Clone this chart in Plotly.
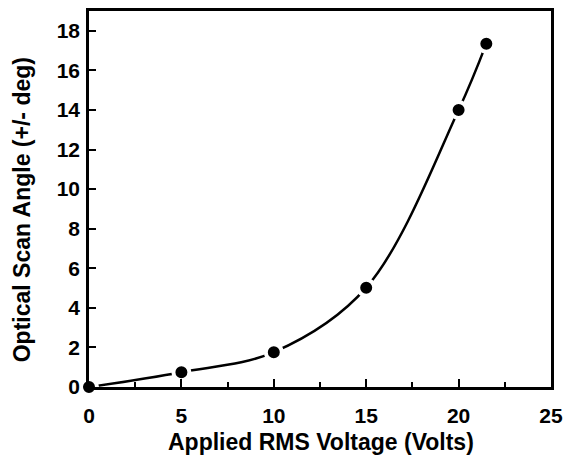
import plotly.graph_objects as go

voltage = [0, 5, 10, 15, 20, 21.5]
scan_angle = [0.0, 0.75, 1.76, 5.02, 14.0, 17.35]
x_ticks = [0, 5, 10, 15, 20, 25]
y_ticks = [0, 2, 4, 6, 8, 10, 12, 14, 16, 18]
x_title = "Applied RMS Voltage (Volts)"
y_title = "Optical Scan Angle (+/- deg)"

FONT = "Liberation Sans, Arial, sans-serif"

fig = go.Figure()
fig.add_trace(go.Scatter(
    x=voltage, y=scan_angle, mode="lines",
    line=dict(color="black", width=2.5, shape="spline", smoothing=1.0),
    showlegend=False, hoverinfo="skip"))
fig.add_trace(go.Scatter(
    x=voltage, y=scan_angle, mode="markers",
    marker=dict(color="black", size=16, line=dict(color="white", width=4)),
    showlegend=False, cliponaxis=False))

fig.update_layout(
    width=566, height=458,
    margin=dict(l=89, r=15, t=11, b=71, autoexpand=False),
    paper_bgcolor="white", plot_bgcolor="white",
    font=dict(family=FONT, color="black"),
    xaxis=dict(
        range=[0, 25], tickvals=x_ticks, ticks="inside", ticklen=8, tickwidth=2,
        tickcolor="black", showline=True, linecolor="black", linewidth=2.5,
        mirror=True, showgrid=False, zeroline=False, automargin=False,
        tickfont=dict(family=FONT, size=21, color="black", weight="bold"),
        ticklabelstandoff=8,
        minor=dict(tickvals=[2.5, 7.5, 12.5, 17.5, 22.5], ticks="inside",
                   ticklen=5, tickwidth=1.5, tickcolor="black"),
    ),
    yaxis=dict(
        range=[0, 19], tickvals=y_ticks, ticks="inside", ticklen=7, tickwidth=2,
        tickcolor="black", showline=True, linecolor="black", linewidth=2.5,
        mirror=True, showgrid=False, zeroline=False, automargin=False,
        tickfont=dict(family=FONT, size=21, color="black", weight="bold"),
        ticklabelstandoff=2,
    ),
    annotations=[
        dict(text="<b>" + x_title + "</b>", xref="paper", yref="paper",
             x=0.502, y=-0.146, xanchor="center", yanchor="middle",
             showarrow=False, font=dict(family=FONT, size=23, color="black")),
        dict(text="<b>" + y_title + "</b>", xref="paper", yref="paper",
             x=-0.145, y=0.47, xanchor="center", yanchor="middle", textangle=-90,
             showarrow=False, font=dict(family=FONT, size=23, color="black")),
    ],
)

fig.write_html("out.html", config={"displayModeBar": False},
               post_script="document.body.style.margin='0';document.body.style.overflow='hidden';")
